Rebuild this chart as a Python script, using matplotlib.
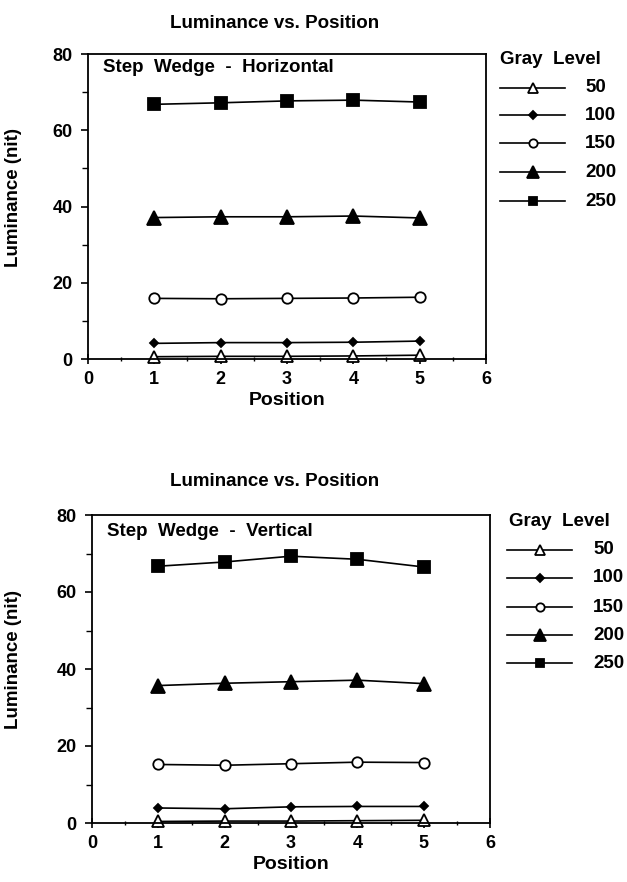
import matplotlib
matplotlib.use("Agg")
import matplotlib.pyplot as plt
from matplotlib.lines import Line2D
from matplotlib.ticker import MultipleLocator

plt.rcParams['font.family'] = ['Liberation Sans', 'DejaVu Sans']
plt.rcParams['font.weight'] = 'bold'

positions = [1, 2, 3, 4, 5]
gray_levels = ["50", "100", "150", "200", "250"]

# Step Wedge - Horizontal
h_50 = [0.6, 0.7, 0.7, 0.8, 1.0]
h_100 = [4.1, 4.3, 4.3, 4.4, 4.7]
h_150 = [15.9, 15.8, 15.9, 16.0, 16.2]
h_200 = [37.1, 37.3, 37.3, 37.5, 37.0]
h_250 = [66.8, 67.2, 67.7, 67.9, 67.4]

# Step Wedge - Vertical
v_50 = [0.4, 0.5, 0.5, 0.6, 0.7]
v_100 = [3.9, 3.7, 4.2, 4.3, 4.3]
v_150 = [15.2, 15.0, 15.4, 15.8, 15.7]
v_200 = [35.7, 36.3, 36.7, 37.1, 36.2]
v_250 = [66.7, 67.8, 69.3, 68.5, 66.5]

panel_titles = ["Step  Wedge  -  Horizontal", "Step  Wedge  -  Vertical"]

styles = [
    dict(marker='^', markersize=9, markerfacecolor='white'),
    dict(marker='D', markersize=4.5, markerfacecolor='black'),
    dict(marker='o', markersize=7.5, markerfacecolor='white'),
    dict(marker='^', markersize=10, markerfacecolor='black'),
    dict(marker='s', markersize=8, markerfacecolor='black'),
]
legend_scale = 0.8

W, H = 627, 882
fig = plt.figure(figsize=(W / 100, H / 100), dpi=100)

def px(x, y):
    return x / W, 1 - y / H

panels = [
    dict(series=[h_50, h_100, h_150, h_200, h_250], box=(88, 54, 486, 359),
         title_y=23, label_xy=(103, 67), gl_xy=(500, 60),
         rows=[88, 115, 143, 172, 201], line_x=(500, 565), lab_x=585, label=panel_titles[0]),
    dict(series=[v_50, v_100, v_150, v_200, v_250], box=(92, 515, 490, 823),
         title_y=482, label_xy=(107, 532), gl_xy=(509, 522),
         rows=[550, 578, 607, 635, 663], line_x=(507, 572), lab_x=593, label=panel_titles[1]),
]

for p in panels:
    l, t, r, b = p['box']
    ax = fig.add_axes([l / W, 1 - b / H, (r - l) / W, (b - t) / H])
    for vals, st in zip(p['series'], styles):
        ax.plot(positions, vals, color='black', linewidth=1.2,
                markeredgecolor='black', markeredgewidth=1.3, clip_on=False, **st)
    ax.set_xlim(0, 6)
    ax.set_ylim(0, 80)
    ax.xaxis.set_major_locator(MultipleLocator(1))
    ax.xaxis.set_minor_locator(MultipleLocator(0.5))
    ax.yaxis.set_major_locator(MultipleLocator(20))
    ax.yaxis.set_minor_locator(MultipleLocator(10))
    ax.tick_params(axis='y', which='major', direction='out', length=5, width=1.2,
                   labelsize=13, pad=6)
    ax.tick_params(axis='y', which='minor', direction='out', length=4, width=1.0)
    ax.tick_params(axis='x', which='major', direction='inout', length=7, width=1.2,
                   labelsize=13, pad=5)
    ax.tick_params(axis='x', which='minor', direction='inout', length=3, width=1.0)
    for s in ax.spines.values():
        s.set_linewidth(1.3)
    for lab in ax.get_xticklabels() + ax.get_yticklabels():
        lab.set_fontweight('bold')
    ax.set_xlabel("Position", fontsize=14, fontweight='bold', labelpad=3)
    ax.set_ylabel("Luminance (nit)", fontsize=13.5, fontweight='bold')
    ax.yaxis.set_label_coords(-(l - 22) / (r - l), 0.53)

    fig.text(*px(275, p['title_y']), "Luminance vs. Position", ha='center', va='center',
             fontsize=13.5, fontweight='bold')
    fig.text(*px(*p['label_xy']), p['label'], ha='left', va='center',
             fontsize=13.5, fontweight='bold')
    fig.text(*px(*p['gl_xy']), "Gray  Level", ha='left', va='center',
             fontsize=13.5, fontweight='bold')
    x0, x1 = p['line_x']
    for yrow, st, name in zip(p['rows'], styles, gray_levels):
        xa, ya = px(x0, yrow)
        xb, _ = px(x1, yrow)
        fig.add_artist(Line2D([xa, xb], [ya, ya], transform=fig.transFigure,
                              color='black', linewidth=1.2))
        xm, _ = px((x0 + x1) / 2, yrow)
        lst = dict(st)
        lst['markersize'] = st['markersize'] * legend_scale
        fig.add_artist(Line2D([xm], [ya], transform=fig.transFigure, color='black',
                              linestyle='none', markeredgecolor='black',
                              markeredgewidth=1.3, **lst))
        fig.text(*px(p['lab_x'], yrow), name, ha='left', va='center',
                 fontsize=13.5, fontweight='bold')

fig.savefig("out.png", dpi=100, facecolor='white')
